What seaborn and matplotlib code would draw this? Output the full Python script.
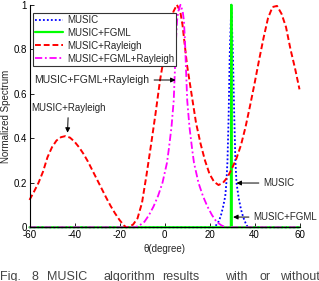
import numpy as np
import pandas as pd
import seaborn as sns
import matplotlib
matplotlib.use("Agg")
import matplotlib.pyplot as plt

# values (theta in degree, normalized spectrum)
theta_music = [-60, 22, 23, 24, 25, 26, 27, 27.5, 28, 28.5, 29, 29.7, 30.4, 31, 31.5, 32, 33, 34, 35, 36, 37, 60]
val_music = [0, 0, 0.01, 0.025, 0.05, 0.09, 0.14, 0.2, 0.3, 0.5, 0.78, 1.0, 0.78, 0.5, 0.3, 0.2, 0.13, 0.08, 0.045, 0.02, 0, 0]

theta_fgml = [-60, 29.5, 29.7, 29.9, 60]
val_fgml = [0, 0, 1.0, 0, 0]

theta_ray = [-60, -58, -56, -54, -52, -50, -48, -46, -44, -42, -40, -38, -36, -34, -32, -30,
             -28, -26, -24, -22, -20, -18, -17, -16, -14, -12, -10, -8, -6, -4, -2, 0, 2, 4,
             5.5, 7, 8, 9, 10, 12, 14, 16, 18, 20, 22, 24, 26, 28, 30, 32, 34, 36, 38, 40,
             42, 44, 46, 48, 50, 52, 54, 56, 58, 60]
val_ray = [0.123, 0.16, 0.2, 0.25, 0.315, 0.36, 0.39, 0.405, 0.41, 0.403, 0.385, 0.36, 0.33, 0.295, 0.255, 0.215,
           0.175, 0.135, 0.097, 0.063, 0.033, 0.008, 0.0, 0.002, 0.012, 0.04, 0.11, 0.235, 0.37, 0.51, 0.66, 0.78, 0.9, 0.97,
           1.0, 0.97, 0.91, 0.82, 0.73, 0.6, 0.47, 0.377, 0.3, 0.24, 0.205, 0.19, 0.2, 0.225, 0.265, 0.31, 0.37, 0.45, 0.545, 0.645,
           0.75, 0.85, 0.94, 0.99, 0.995, 0.96, 0.9, 0.8, 0.715, 0.62]

theta_all = [-60, -12.9, -10.9, -8.9, -6.9, -4.9, -2.9, -0.9, 1.1, 1.9, 3.1, 4.1, 4.6, 5.1, 5.6, 6.1, 7.1,
             8.1, 8.6, 9.1, 9.6, 10.1, 11.1, 12.3, 13.1, 15.1, 17.1, 19.1, 21.1, 23.1, 25.1, 27.1, 60]
val_all = [0, 0, 0.01, 0.025, 0.055, 0.093, 0.14, 0.2, 0.29, 0.35, 0.45, 0.57, 0.7, 0.84, 0.93, 0.97, 1.0,
           0.97, 0.93, 0.84, 0.7, 0.57, 0.45, 0.35, 0.29, 0.2, 0.14, 0.093, 0.055, 0.025, 0.01, 0, 0]

labels = ["MUSIC", "MUSIC+FGML", "MUSIC+Rayleigh", "MUSIC+FGML+Rayleigh"]
xticks = [-60, -40, -20, 0, 20, 40, 60]
yticks = [0, 0.2, 0.4, 0.6, 0.8, 1]
ytick_labels = ["0", "0.2", "0.4", "0.6", "0.8", "1"]
caption_words = ["Fig.", "8", "MUSIC", "algorithm", "results", "with", "or", "without"]
caption_x = [0, 32, 47, 103, 162, 225, 260, 280]

sns.set_style("ticks")
plt.rcParams["font.family"] = ["Liberation Sans", "DejaVu Sans"]
plt.rcParams["axes.unicode_minus"] = False

W, H = 319, 281
fig = plt.figure(figsize=(W / 100, H / 100), dpi=100)
ax = fig.add_axes([29.5 / W, (H - 227.3) / H, 270 / W, 222.5 / H])

sns.lineplot(x=theta_music, y=val_music, ax=ax, color="#0000ff", lw=1.3,
             linestyle=(0, (1, 1.2)), label=labels[0])
sns.lineplot(x=theta_fgml, y=val_fgml, ax=ax, color="#00ff00", lw=1.6,
             linestyle="-", label=labels[1])
sns.lineplot(x=theta_ray, y=val_ray, ax=ax, color="#ff0000", lw=1.4,
             linestyle=(0, (3, 1.5)), label=labels[2])
sns.lineplot(x=theta_all, y=val_all, ax=ax, color="#ff00ff", lw=1.3,
             linestyle=(0, (4, 1.5, 1, 1.5)), label=labels[3])

for ln in ax.lines:
    ln.set_clip_on(False)

ax.set_xlim(-60, 60)
ax.set_ylim(0, 1)
ax.set_xticks(xticks)
ax.set_xticklabels([str(t) for t in xticks])
ax.set_yticks(yticks)
ax.set_yticklabels(ytick_labels)
ax.tick_params(direction="in", length=3, width=0.6, labelsize=7, pad=2, colors="black")
sns.despine(ax=ax)
for s in ["left", "bottom"]:
    ax.spines[s].set_linewidth(0.8)
    ax.spines[s].set_color("black")

ax.set_xlabel("\u03b8(degree)", fontsize=7, labelpad=3)
ax.set_ylabel("Normalized Spectrum", fontsize=7, labelpad=1.5)

leg = ax.legend(loc="upper left", bbox_to_anchor=(0.013, 0.963), borderaxespad=0,
                fontsize=7, handlelength=2.9, handletextpad=0.4, borderpad=0.2,
                labelspacing=0.3, fancybox=False, framealpha=1)
leg.get_frame().set_edgecolor("#333333")
leg.get_frame().set_linewidth(0.8)

arrow = dict(arrowstyle="-|>", color="black", lw=0.7, mutation_scale=7, shrinkA=1, shrinkB=0)
ax.annotate("MUSIC+FGML+Rayleigh", xy=(4.9, 0.662), xytext=(-57.8, 0.662),
            ha="left", va="center", fontsize=7.5, arrowprops=arrow)
ax.annotate("MUSIC+Rayleigh", xy=(-43.1, 0.425), xytext=(-42.7, 0.536),
            ha="center", va="center", fontsize=7, arrowprops=arrow)
ax.annotate("MUSIC", xy=(32.0, 0.199), xytext=(44.0, 0.199),
            ha="left", va="center", fontsize=7, arrowprops=arrow)
ax.annotate("MUSIC+FGML", xy=(30.5, 0.046), xytext=(39.6, 0.046),
            ha="left", va="center", fontsize=7, arrowprops=arrow, annotation_clip=False)

for word, px in zip(caption_words, caption_x):
    fig.text(px / W, (H - 271) / H, word, ha="left", va="top", fontsize=9, color="#444444")

fig.savefig("out.png", dpi=100)
